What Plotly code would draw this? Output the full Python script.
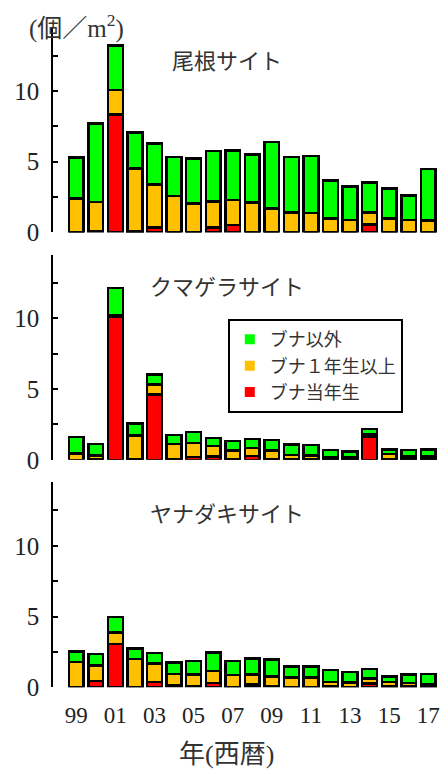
import plotly.graph_objects as go

# Seedling density (per m^2) by year at three sites
years = list(range(1999, 2018))
site_names = ["尾根サイト", "クマゲラサイト", "ヤナダキサイト"]
series_names = ["ブナ以外", "ブナ１年生以上", "ブナ当年生"]

# Ridge site
one_red = [0.0, 0.10, 8.33, 0.08, 0.35, 0.0, 0.0, 0.35, 0.51, 0.0,
           0.0, 0.0, 0.0, 0.0, 0.0, 0.56, 0.0, 0.0, 0.0]
one_orange = [2.40, 2.06, 1.74, 4.42, 3.05, 2.56, 2.05, 1.84, 1.79, 2.12,
              1.70, 1.42, 1.37, 0.98, 0.89, 0.84, 1.00, 0.89, 0.84]
one_green = [2.88, 5.52, 3.13, 2.57, 2.88, 2.77, 3.16, 3.58, 3.50, 3.39,
             4.68, 3.91, 4.03, 2.70, 2.37, 2.14, 2.10, 1.72, 3.65]

# Kumagera site
two_red = [0.0, 0.07, 10.11, 0.03, 4.63, 0.03, 0.20, 0.23, 0.03, 0.28,
           0.03, 0.03, 0.03, 0.05, 0.05, 1.64, 0.03, 0.05, 0.03]
two_orange = [0.45, 0.25, 0.12, 1.69, 0.69, 1.08, 0.98, 0.76, 0.64, 0.57,
              0.64, 0.32, 0.27, 0.15, 0.12, 0.17, 0.39, 0.17, 0.22]
two_green = [1.17, 0.79, 1.90, 0.86, 0.72, 0.63, 0.79, 0.56, 0.65, 0.63,
             0.72, 0.73, 0.74, 0.49, 0.41, 0.38, 0.32, 0.47, 0.49]

# Yanadaki site
three_red = [0.0, 0.45, 3.05, 0.03, 0.36, 0.12, 0.10, 0.32, 0.03, 0.21,
             0.10, 0.03, 0.03, 0.05, 0.03, 0.28, 0.05, 0.05, 0.03]
three_orange = [1.78, 1.10, 0.81, 1.97, 1.31, 0.83, 0.80, 0.83, 0.85, 0.69,
                0.66, 0.66, 0.66, 0.34, 0.32, 0.34, 0.32, 0.25, 0.17]
three_green = [0.74, 0.80, 1.11, 0.74, 0.75, 0.81, 0.97, 1.32, 0.99, 1.15,
               1.22, 0.78, 0.78, 0.85, 0.75, 0.67, 0.41, 0.60, 0.75]

tick_years = years[::2]
tick_text = [str(y)[-2:] for y in tick_years]
y_major = [0, 5, 10]
y_minor = [2.5, 7.5, 12.5]

GREEN, ORANGE, RED = "#00FF00", "#FFC000", "#FF0000"
SERIF = "Liberation Serif, Noto Sans CJK JP, serif"
JP = "Noto Sans CJK JP, sans-serif"
INK = "#222222"

W, H = 448, 774
panels = [
    (one_red, one_orange, one_green),
    (two_red, two_orange, two_green),
    (three_red, three_orange, three_green),
]
# pixel tops/bottoms of each panel's plotting area
panel_px = [(27.7, 236.7), (259.3, 468.3), (491.0, 700.0)]
x_dom = [53.3 / W, 440.0 / W]

fig = go.Figure()
for i, (red, orange, green) in enumerate(panels):
    ax = "" if i == 0 else str(i + 1)
    for vals, col in ((red, RED), (orange, ORANGE), (green, GREEN)):
        fig.add_trace(go.Bar(
            x=years, y=vals, xaxis="x" + ax, yaxis="y" + ax,
            marker=dict(color=col, line=dict(color="black", width=2.5)),
            showlegend=False, hoverinfo="skip",
        ))

# legend entries
for name, col in zip(series_names, (GREEN, ORANGE, RED)):
    fig.add_trace(go.Scatter(
        x=[None], y=[None], mode="markers", name=name,
        marker=dict(symbol="square", size=10, color=col),
        xaxis="x2", yaxis="y2",
    ))

layout = dict(
    width=W, height=H, margin=dict(l=0, r=0, t=0, b=0),
    paper_bgcolor="white", plot_bgcolor="white",
    barmode="stack", bargap=0.245,
    font=dict(family=SERIF, color=INK, size=22),
    showlegend=True,
    legend=dict(
        x=228.3 / W, y=1 - 325 / H, xanchor="left", yanchor="top",
        bordercolor="black", borderwidth=2, bgcolor="white",
        font=dict(family=JP, size=18, color="#333333"),
        traceorder="normal", itemwidth=30,
    ),
)

for i, (top, bot) in enumerate(panel_px):
    ax = "" if i == 0 else str(i + 1)
    layout["xaxis" + ax] = dict(
        domain=x_dom, range=[1997.82, 2017.55], anchor="y" + ax,
        showline=False, showgrid=False, zeroline=False, ticks="",
        tickvals=tick_years, ticktext=tick_text,
        showticklabels=(i == 2), ticklabelstandoff=12,
        tickfont=dict(family=SERIF, size=23, color=INK),
    )
    layout["yaxis" + ax] = dict(
        domain=[1 - bot / H, 1 - top / H], range=[0, 14.5], anchor="x" + ax,
        showline=True, linecolor="black", linewidth=2,
        showgrid=False, zeroline=False,
        ticks="inside", ticklen=5, tickwidth=2, tickcolor="black",
        tickvals=y_major, ticktext=[str(v) for v in y_major],
        minor=dict(tickvals=y_minor, ticks="inside", ticklen=5,
                   tickwidth=2, tickcolor="black", showgrid=False),
        ticklabelstandoff=7,
        tickfont=dict(family=SERIF, size=25, color=INK),
    )

title_y = [60, 290, 521.7]
annotations = [
    dict(text=name, x=227.5 / W, y=1 - ty / H, xref="paper", yref="paper",
         xanchor="center", yanchor="middle", showarrow=False,
         font=dict(family=JP, size=22, color="#333333"))
    for name, ty in zip(site_names, title_y)
]
annotations.append(dict(
    text="(個／m<sup>2</sup>)", x=77 / W, y=1 - 27 / H, xref="paper", yref="paper",
    xanchor="center", yanchor="middle", showarrow=False,
    font=dict(family=SERIF, size=25, color="#333333"),
))
# x-axis caption, centred under the bars
annotations.append(dict(
    text="年(西暦)", x=227 / W, y=1 - 768 / H, xref="paper", yref="paper",
    xanchor="center", yanchor="middle", showarrow=False,
    font=dict(family=SERIF, size=26, color="#333333"),
))
layout["annotations"] = annotations

fig.update_layout(**layout)
fig.write_html("out.html")
